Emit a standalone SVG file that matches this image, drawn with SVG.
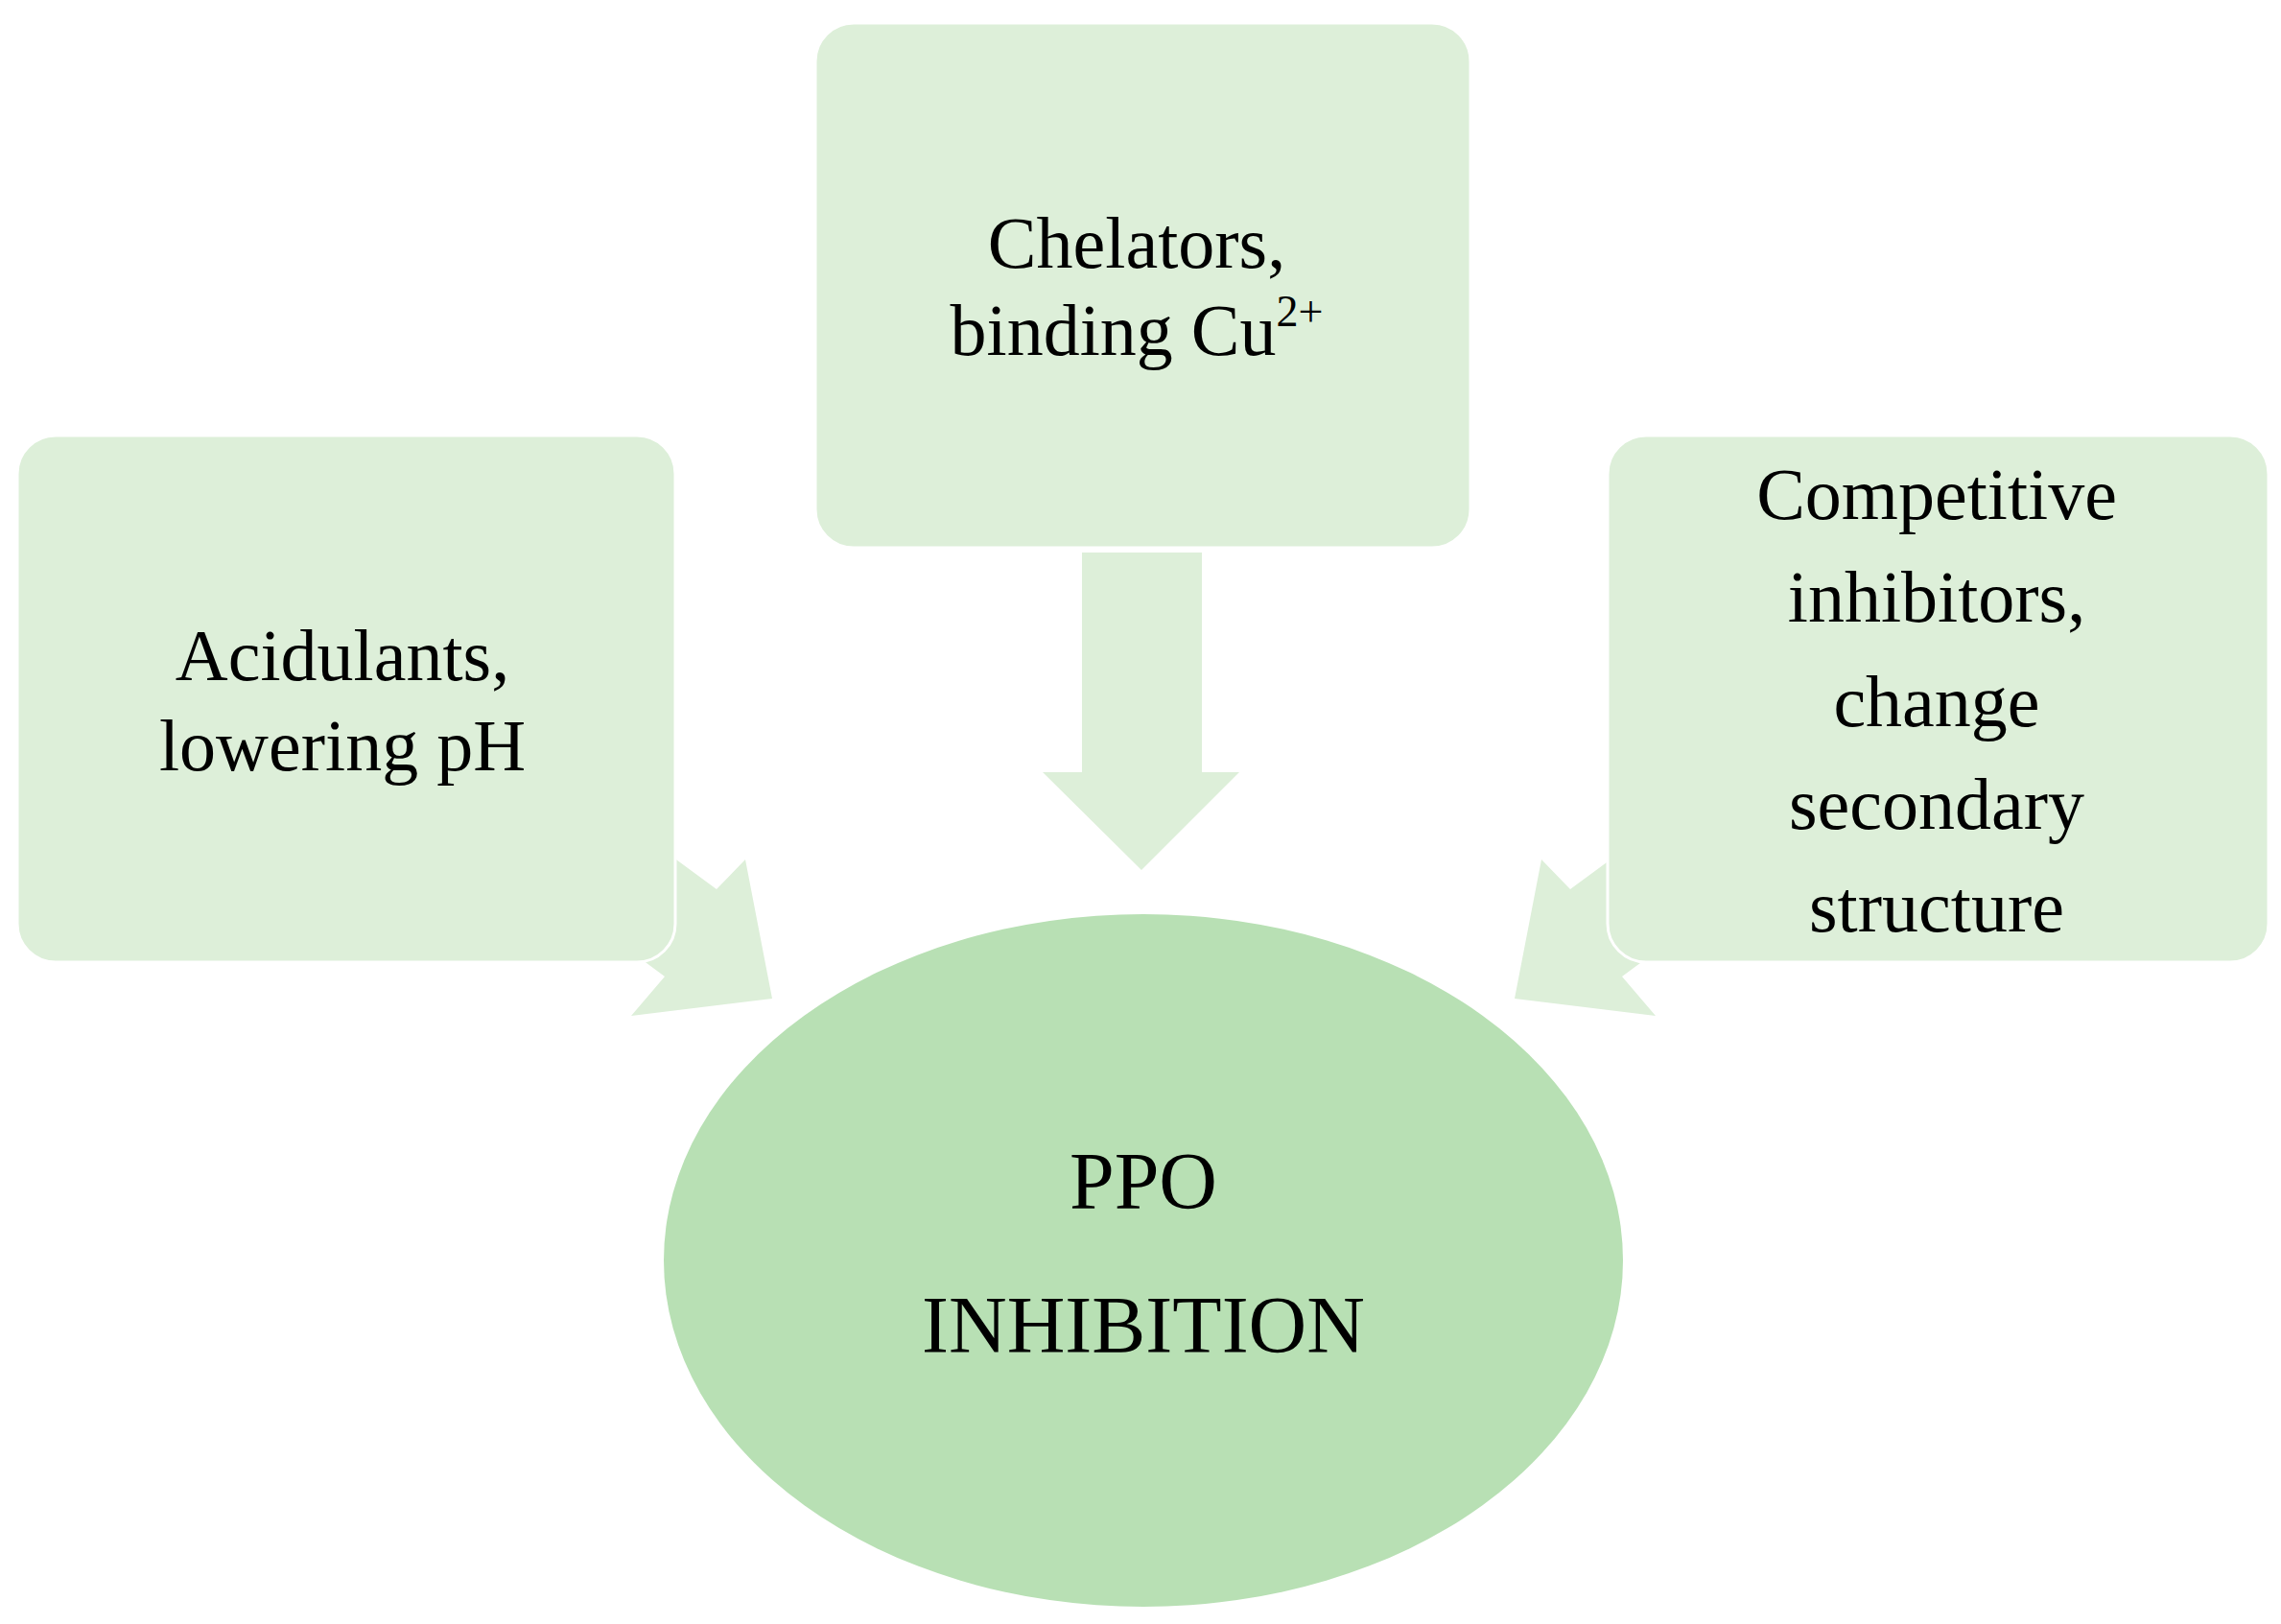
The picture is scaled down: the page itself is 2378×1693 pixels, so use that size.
<svg xmlns="http://www.w3.org/2000/svg" width="2378" height="1693" viewBox="0 0 2378 1693">
<style>
.box{fill:#DDEFD9;stroke:#fff;stroke-width:3}
.arr{fill:#DDEFD9}
text{font-family:"Liberation Serif","DejaVu Serif",serif;fill:#000;text-anchor:middle}
.t{font-size:76px}
.c{font-size:84px}
</style>
<rect width="2378" height="1693" fill="#fff"/>
<g id="connectors">
<polygon class="arr" points="805,1041 777,896 747,927 573,799 520,890 693,1018 658,1059"/>
<polygon class="arr" points="1579,1041 1607,896 1637,927 1811,799 1864,890 1691,1018 1726,1059"/>
<polygon class="arr" points="1128,576 1253,576 1253,805 1292,805 1190,907 1087,805 1128,805"/>
</g>
<g id="acidulants">
<rect class="box" x="18" y="454" width="686" height="549" rx="40"/>
<text class="t" x="357" y="709">Acidulants,</text>
<text class="t" x="357" y="803">lowering pH</text>
</g>
<g id="chelators">
<rect class="box" x="850" y="24" width="683" height="547" rx="40"/>
<text class="t" x="1185" y="279">Chelators,</text>
<text class="t" x="1185" y="370">binding Cu<tspan font-size="46" dy="-30">2+</tspan></text>
</g>
<g id="competitive">
<rect class="box" x="1676" y="454" width="689" height="549" rx="40"/>
<text class="t" x="2019" y="541">Competitive</text>
<text class="t" x="2019" y="648">inhibitors,</text>
<text class="t" x="2019" y="757">change</text>
<text class="t" x="2019" y="864">secondary</text>
<text class="t" x="2019" y="971">structure</text>
</g>
<g id="ppo">
<ellipse cx="1192" cy="1314" rx="500" ry="361" fill="#B8E0B4"/>
<text class="c" x="1192" y="1260">PPO</text>
<text class="c" x="1192" y="1410">INHIBITION</text>
</g>
</svg>
